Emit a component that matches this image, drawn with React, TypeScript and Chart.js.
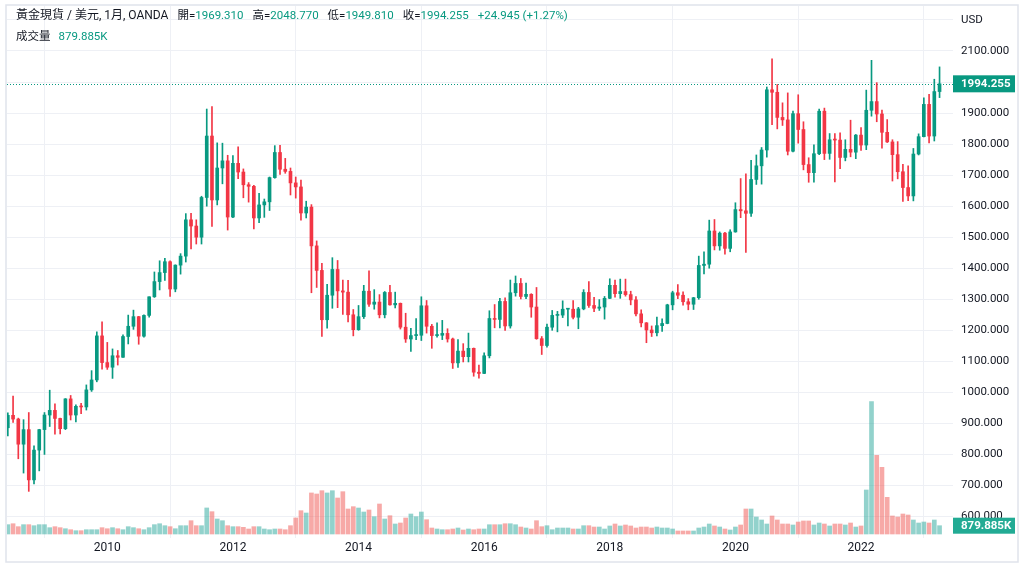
import React, { useEffect, useRef } from 'react';
import { Chart, registerables } from 'chart.js';

Chart.register(...registerables);

// ---- DATA (monthly XAU/USD, first bar = June 2008) ----
const SYMBOL_TITLE = '黃金現貨 / 美元, 1月, OANDA';
const VOLUME_TITLE = '成交量';
const LEGEND_KEYS = ['開', '高', '低', '收'];
const CURRENCY = 'USD';

const YEAR_TICK_INDEX = [19, 43, 67, 91, 115, 139, 163];
const YEAR_LABELS = ['2010', '2012', '2014', '2016', '2018', '2020', '2022'];
const PRICE_TICKS = [600, 700, 800, 900, 1000, 1100, 1200, 1300, 1400, 1500, 1600, 1700, 1800, 1900, 2000, 2100, 2200];

const OPEN = [
  886, 926, 914, 833, 880, 718, 814,
  880, 927, 942, 916, 883, 979, 927, 955, 953, 1008, 1040, 1182,
  1096, 1081, 1118, 1113, 1180, 1213, 1244, 1181, 1248, 1308, 1357, 1386,
  1421, 1333, 1410, 1439, 1556, 1536, 1500, 1628, 1826, 1620, 1723, 1746,
  1565, 1738, 1710, 1669, 1664, 1562, 1604, 1614, 1692, 1773, 1719, 1712,
  1675, 1662, 1578, 1597, 1472, 1393, 1234, 1313, 1396, 1327, 1323, 1250,
  1202, 1244, 1326, 1284, 1291, 1250, 1322, 1282, 1287, 1210, 1172, 1183,
  1184, 1279, 1213, 1183, 1184, 1190, 1172, 1095, 1133, 1115, 1142, 1065,
  1061, 1118, 1238, 1235, 1293, 1214, 1321, 1351, 1309, 1316, 1275, 1173,
  1151, 1210, 1248, 1249, 1268, 1268, 1242, 1269, 1322, 1280, 1271, 1275,
  1303, 1345, 1318, 1325, 1315, 1298, 1253, 1224, 1201, 1192, 1215, 1222,
  1282, 1321, 1313, 1292, 1284, 1305, 1409, 1413, 1520, 1472, 1513, 1464,
  1517, 1589, 1585, 1577, 1686, 1730, 1781, 1975, 1967, 1886, 1878, 1777,
  1898, 1847, 1734, 1708, 1769, 1906, 1770, 1814, 1813, 1757, 1783, 1774,
  1829, 1797, 1909, 1937, 1897, 1838, 1807, 1766, 1711, 1660, 1633, 1768,
  1824, 1928, 1826, 1969.31,
];
const HIGH = [
  934, 988, 917, 912, 935, 828, 881,
  935, 1007, 963, 917, 980, 990, 960, 965, 1024, 1070, 1195, 1227,
  1161, 1140, 1135, 1185, 1249, 1265, 1245, 1250, 1308, 1388, 1424, 1432,
  1424, 1411, 1447, 1576, 1577, 1556, 1632, 1913, 1921, 1804, 1803, 1764,
  1763, 1791, 1720, 1676, 1667, 1641, 1623, 1694, 1795, 1796, 1754, 1723,
  1694, 1684, 1616, 1605, 1488, 1416, 1348, 1434, 1425, 1362, 1361, 1267,
  1280, 1345, 1392, 1331, 1315, 1325, 1345, 1323, 1288, 1255, 1206, 1238,
  1308, 1296, 1219, 1224, 1232, 1205, 1175, 1170, 1157, 1191, 1143, 1088,
  1127, 1263, 1283, 1303, 1305, 1362, 1375, 1367, 1352, 1318, 1338, 1180,
  1220, 1264, 1261, 1295, 1270, 1296, 1274, 1331, 1357, 1306, 1299, 1309,
  1366, 1362, 1365, 1365, 1326, 1309, 1266, 1225, 1214, 1243, 1237, 1284,
  1326, 1347, 1324, 1302, 1306, 1439, 1453, 1555, 1557, 1517, 1516, 1524,
  1611, 1689, 1704, 1748, 1765, 1789, 1984, 2075, 1992, 1933, 1965, 1906,
  1959, 1872, 1756, 1798, 1913, 1916, 1834, 1834, 1836, 1814, 1877, 1831,
  1853, 1974, 2070, 1998, 1910, 1879, 1814, 1808, 1735, 1730, 1786, 1833,
  1949, 1960, 2009, 2048.77,
];
const LOW = [
  860, 903, 786, 740, 681, 705, 747,
  800, 890, 865, 866, 880, 911, 905, 931, 943, 1003, 1034, 1075,
  1074, 1045, 1088, 1113, 1156, 1203, 1155, 1178, 1242, 1306, 1330, 1361,
  1309, 1324, 1381, 1420, 1462, 1478, 1478, 1600, 1535, 1604, 1672, 1523,
  1563, 1689, 1627, 1613, 1527, 1547, 1564, 1586, 1690, 1702, 1706, 1636,
  1626, 1555, 1562, 1321, 1338, 1180, 1207, 1271, 1273, 1251, 1227, 1182,
  1200, 1238, 1277, 1268, 1240, 1240, 1281, 1272, 1204, 1161, 1132, 1170,
  1167, 1191, 1142, 1178, 1170, 1162, 1077, 1080, 1098, 1098, 1052, 1046,
  1060, 1111, 1208, 1208, 1200, 1207, 1310, 1301, 1302, 1242, 1171, 1122,
  1146, 1200, 1195, 1241, 1214, 1237, 1205, 1266, 1274, 1260, 1264, 1236,
  1302, 1307, 1303, 1310, 1282, 1246, 1211, 1160, 1180, 1182, 1196, 1221,
  1266, 1302, 1281, 1266, 1267, 1300, 1382, 1400, 1459, 1458, 1445, 1453,
  1516, 1563, 1451, 1567, 1670, 1671, 1758, 1863, 1849, 1860, 1765, 1775,
  1803, 1717, 1677, 1677, 1766, 1750, 1751, 1678, 1721, 1746, 1759, 1753,
  1780, 1782, 1890, 1872, 1787, 1805, 1681, 1688, 1615, 1618, 1617, 1765,
  1823, 1804, 1810, 1949.81,
];
const CLOSE = [
  926, 914, 833, 880, 718, 814, 880,
  927, 942, 916, 883, 979, 927, 955, 953, 1008, 1040, 1182, 1096,
  1081, 1118, 1113, 1180, 1213, 1244, 1181, 1248, 1308, 1357, 1386, 1421,
  1333, 1410, 1439, 1556, 1536, 1500, 1628, 1826, 1620, 1723, 1746, 1565,
  1738, 1710, 1669, 1664, 1562, 1604, 1614, 1692, 1773, 1719, 1712, 1675,
  1662, 1578, 1597, 1472, 1393, 1234, 1313, 1396, 1327, 1323, 1250, 1202,
  1244, 1326, 1284, 1291, 1250, 1322, 1282, 1287, 1210, 1172, 1183, 1184,
  1279, 1213, 1183, 1184, 1190, 1172, 1095, 1133, 1115, 1142, 1065, 1061,
  1118, 1238, 1235, 1293, 1214, 1321, 1351, 1309, 1316, 1275, 1173, 1151,
  1210, 1248, 1249, 1268, 1268, 1242, 1269, 1322, 1280, 1271, 1275, 1303,
  1345, 1318, 1325, 1315, 1298, 1253, 1224, 1201, 1192, 1215, 1222, 1282,
  1321, 1313, 1292, 1284, 1305, 1409, 1413, 1520, 1472, 1513, 1464, 1517,
  1589, 1585, 1577, 1686, 1730, 1781, 1975, 1967, 1886, 1878, 1777, 1898,
  1847, 1734, 1708, 1769, 1906, 1770, 1814, 1813, 1757, 1783, 1774, 1829,
  1797, 1909, 1937, 1897, 1838, 1807, 1766, 1711, 1660, 1633, 1768, 1824,
  1928, 1826, 1969.31, 1994.255,
];
// volume in thousands
const VOLUME = [
  990, 1090, 775, 990, 990, 880, 990,
  990, 670, 775, 670, 560, 455, 350, 350, 455, 455, 455, 670,
  560, 670, 560, 455, 775, 670, 560, 455, 670, 990, 1090, 880,
  775, 560, 880, 880, 1410, 880, 880, 2760, 2365, 1590, 1410, 880,
  775, 775, 710, 530, 775, 775, 530, 455, 530, 530, 455, 880,
  1700, 2470, 2225, 4350, 4240, 4590, 4350, 4590, 3815, 4485, 2650, 2895,
  2755, 2330, 2545, 1835, 3180, 1590, 1940, 1060, 1165, 1695, 2120, 1835,
  2330, 1515, 635, 530, 455, 455, 530, 635, 425, 530, 455, 530,
  530, 985, 985, 985, 1090, 1090, 985, 740, 635, 530, 1410, 775,
  880, 455, 635, 635, 635, 530, 530, 880, 880, 740, 740, 530,
  850, 1060, 850, 955, 850, 635, 740, 740, 635, 740, 635, 635,
  530, 320, 320, 320, 320, 635, 740, 1060, 850, 740, 530, 425,
  740, 955, 2650, 2650, 1800, 1485, 1060, 1910, 1485, 1060, 1060, 955,
  1270, 1380, 1380, 955, 1165, 1060, 850, 1060, 1060, 955, 1165, 740,
  850, 4665, 14025, 8340, 7070, 3890, 1910, 1800, 2120, 2015, 1485, 1165,
  1270, 1165, 1485, 879.885,
];

// ---- STYLE ----
const UP = '#089981';
const DOWN = '#f23645';
const UP_VOL = 'rgba(38,166,154,0.5)';
const DOWN_VOL = 'rgba(239,83,80,0.5)';
const VOL_TAG = '#22ab94';
const TEXT = '#131722';
const GRID = '#eef0f5';
const FONT = 'Roboto, "Noto Sans CJK TC", sans-serif';

export default function App() {
  const canvasRef = useRef<HTMLCanvasElement | null>(null);

  useEffect(() => {
    document.body.style.margin = '0';
    const canvas = canvasRef.current;
    if (!canvas) return;

    const idx = CLOSE.map((_, i) => i);
    const up = (i: number) => CLOSE[i] >= OPEN[i];
    const last = CLOSE.length - 1;

    const noPad = (scale: any) => {
      scale.paddingTop = 0;
      scale.paddingBottom = 0;
      scale.paddingLeft = 0;
      scale.paddingRight = 0;
    };

    const overlay = {
      id: 'tvOverlay',
      beforeDatasetsDraw(chart: any) {
        const { ctx, chartArea } = chart;
        const y = chart.scales.y.getPixelForValue(CLOSE[last]);
        ctx.save();
        ctx.strokeStyle = UP;
        ctx.lineWidth = 1;
        ctx.setLineDash([1, 2]);
        ctx.beginPath();
        ctx.moveTo(chartArea.left, Math.round(y) + 0.5);
        ctx.lineTo(chartArea.right, Math.round(y) + 0.5);
        ctx.stroke();
        ctx.restore();
      },
      afterDraw(chart: any) {
        const { ctx, chartArea } = chart;
        ctx.save();
        ctx.textBaseline = 'middle';
        ctx.textAlign = 'left';
        // price tag
        const py = chart.scales.y.getPixelForValue(CLOSE[last]);
        ctx.fillStyle = UP;
        ctx.fillRect(chartArea.right, py - 8.5, 62, 17);
        ctx.fillStyle = '#ffffff';
        ctx.font = `bold 11.5px ${FONT}`;
        ctx.fillText(CLOSE[last].toFixed(3), chartArea.right + 8, py + 0.5);
        // volume tag
        const vy = chart.scales.yv.getPixelForValue(VOLUME[last]);
        ctx.fillStyle = up(last) ? VOL_TAG : DOWN;
        ctx.fillRect(chartArea.right, vy - 8, 62, 16);
        ctx.fillStyle = '#ffffff';
        ctx.fillText(VOLUME[last].toFixed(3) + 'K', chartArea.right + 8, vy + 0.5);

        // legend
        const valColor = up(last) ? UP : DOWN;
        const vals = [OPEN[last], HIGH[last], LOW[last], CLOSE[last]];
        const chg = CLOSE[last] - OPEN[last];
        const pct = (chg / OPEN[last]) * 100;
        const sign = chg >= 0 ? '+' : '';
        const GAP = 9;
        let x = 16;
        const put = (t: string, c: string, size: number, y: number) => {
          ctx.font = `${size}px ${FONT}`;
          ctx.fillStyle = c;
          ctx.fillText(t, x, y);
          x += ctx.measureText(t).width;
        };
        put(SYMBOL_TITLE, TEXT, 12, 16);
        x += GAP;
        LEGEND_KEYS.forEach((k, j) => {
          put(k + '=', TEXT, 11.5, 16);
          put(vals[j].toFixed(3), valColor, 11.5, 16);
          x += GAP;
        });
        put(`${sign}${chg.toFixed(3)} (${sign}${pct.toFixed(2)}%)`, valColor, 11.5, 16);

        x = 16;
        put(VOLUME_TITLE, TEXT, 11.5, 37);
        x += 8;
        put(VOLUME[last].toFixed(3) + 'K', valColor, 11.5, 37);

        // widget border
        ctx.strokeStyle = '#e0e3eb';
        ctx.lineWidth = 1.5;
        ctx.strokeRect(6, 5, 1012, 557);
        ctx.restore();
      },
    };

    const chart = new Chart(canvas, {
      type: 'bar',
      data: {
        datasets: [
          {
            label: 'body',
            data: idx.map((i) => ({ x: i, y: [OPEN[i], CLOSE[i]] })) as any,
            backgroundColor: idx.map((i) => (up(i) ? UP : DOWN)),
            barThickness: 3,
            minBarLength: 1,
            grouped: false,
            borderWidth: 0,
            yAxisID: 'y',
            order: 1,
          } as any,
          {
            label: 'wick',
            data: idx.map((i) => ({ x: i, y: [LOW[i], HIGH[i]] })) as any,
            backgroundColor: idx.map((i) => (up(i) ? UP : DOWN)),
            barThickness: 1,
            grouped: false,
            borderWidth: 0,
            yAxisID: 'y',
            order: 2,
          } as any,
          {
            label: 'volume',
            data: idx.map((i) => ({ x: i, y: VOLUME[i] })) as any,
            backgroundColor: idx.map((i) => (up(i) ? UP_VOL : DOWN_VOL)),
            barThickness: 4,
            grouped: false,
            borderWidth: 0,
            yAxisID: 'yv',
            order: 3,
          } as any,
        ],
      },
      options: {
        responsive: false,
        animation: false,
        events: [],
        layout: { padding: { left: 7, top: 6, right: 6, bottom: 5 } },
        plugins: { legend: { display: false }, tooltip: { enabled: false } },
        scales: {
          x: {
            type: 'linear',
            position: 'bottom',
            min: -0.16,
            max: 180.57,
            offset: false,
            border: { display: false },
            grid: { color: GRID, drawTicks: false, tickLength: 0 },
            afterBuildTicks(scale: any) {
              scale.ticks = YEAR_TICK_INDEX.map((v) => ({ value: v }));
            },
            afterFit(scale: any) {
              scale.height = 24;
              noPad(scale);
            },
            ticks: {
              autoSkip: false,
              maxRotation: 0,
              padding: 3,
              color: TEXT,
              font: { size: 12, family: FONT },
              callback(value: any) {
                const k = YEAR_TICK_INDEX.indexOf(Number(value));
                return k >= 0 ? YEAR_LABELS[k] : '';
              },
            },
          },
          y: {
            type: 'linear',
            position: 'right',
            min: 530.72,
            max: 2245.0,
            border: { display: false },
            grid: { color: GRID, drawTicks: false, tickLength: 0 },
            afterBuildTicks(scale: any) {
              scale.ticks = PRICE_TICKS.map((v) => ({ value: v }));
            },
            afterFit(scale: any) {
              scale.width = 65;
              noPad(scale);
            },
            ticks: {
              crossAlign: 'near',
              padding: 8,
              color: TEXT,
              font: { size: 11.5, family: FONT },
              callback(value: any) {
                const v = Number(value);
                if (v === PRICE_TICKS[PRICE_TICKS.length - 1]) return CURRENCY;
                if (Math.abs(v - CLOSE[last]) < 20) return '';
                return v.toFixed(3);
              },
            },
          },
          yv: {
            type: 'linear',
            display: false,
            min: -424,
            max: 55968,
          },
        },
      } as any,
      plugins: [overlay],
    });

    return () => chart.destroy();
  }, []);

  return (
    <div style={{ width: 1024, height: 567, background: '#ffffff' }}>
      <canvas ref={canvasRef} width={1024} height={567} style={{ display: 'block' }} />
    </div>
  );
}
